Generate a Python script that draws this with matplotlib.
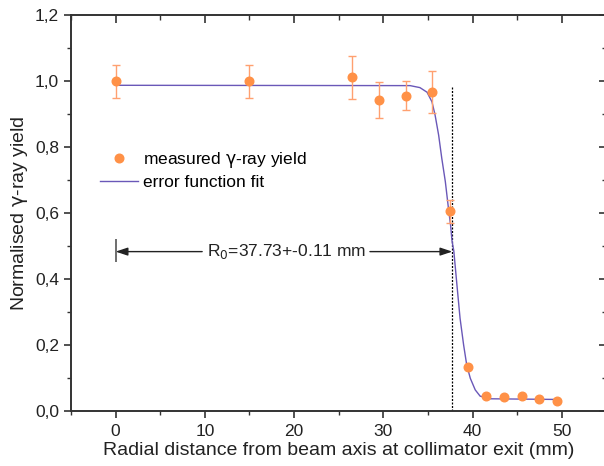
import matplotlib
matplotlib.use("Agg")
import matplotlib.pyplot as plt
from matplotlib.ticker import MultipleLocator, FixedLocator, FixedFormatter

plt.rcParams['font.family'] = ['Liberation Sans', 'DejaVu Sans']
plt.rcParams['mathtext.fontset'] = 'custom'
plt.rcParams['mathtext.rm'] = 'DejaVu Sans'
plt.rcParams['mathtext.it'] = 'DejaVu Sans:italic'

# measured data
x_meas = [0, 15, 26.5, 29.5, 32.5, 35.5, 37.5, 39.5, 41.5, 43.5, 45.5, 47.5, 49.5]
y_meas = [1.0, 1.0, 1.011, 0.942, 0.956, 0.966, 0.605, 0.134, 0.044, 0.041, 0.045, 0.037, 0.031]
y_err = [0.05, 0.05, 0.066, 0.055, 0.044, 0.063, 0.034, 0.0, 0.0, 0.0, 0.0, 0.0, 0.0]

# fit curve
x_fit = [0, 33.0, 34.1, 34.9, 35.45, 35.8, 36.2, 36.55, 36.95, 37.3, 37.55, 37.7,
         37.9, 38.25, 38.6, 39.0, 39.35, 39.75, 40.3, 40.85, 42.0, 49.5]
y_fit = [0.987, 0.986, 0.980, 0.966, 0.937, 0.897, 0.836, 0.766, 0.695, 0.614, 0.560, 0.515,
         0.485, 0.382, 0.281, 0.200, 0.139, 0.099, 0.064, 0.045, 0.037, 0.035]

R0 = 37.73
ann_text = "R$_0$=37.73+-0.11 mm"

yticks = [0.0, 0.2, 0.4, 0.6, 0.8, 1.0, 1.2]
ytick_labels = ["0,0", "0,2", "0,4", "0,6", "0,8", "1,0", "1,2"]
xticks = [0, 10, 20, 30, 40, 50]
xtick_labels = ["0", "10", "20", "30", "40", "50"]

orange = '#FF9147'
orange_err = '#FFA070'
purple = '#6A58B8'
dark = '#333333'

GAMMA = r'$\mathrm{\gamma}$'

fig = plt.figure(figsize=(6.04, 4.66), dpi=100)
ax = fig.add_axes([71/604, 55/466, (606.4-71)/604, 396/466])

ax.plot(x_fit, y_fit, color=purple, lw=1.0, label='error function fit', zorder=2)
ax.errorbar(x_meas, y_meas, yerr=y_err, fmt='none', ecolor=orange_err, elinewidth=1.0,
            capsize=3.2, capthick=1.0, zorder=3)
ax.plot(x_meas, y_meas, 'o', color=orange, ms=6.2, mec=orange,
        label='measured ' + GAMMA + '-ray yield', zorder=4)

ax.vlines(R0, 0, 0.985, colors='black', linestyles=(0, (1.6, 1.2)), lw=0.9, zorder=1)

# annotation arrows
yarr = 0.483
ax.annotate('', xy=(0, yarr), xytext=(9.7, yarr),
            arrowprops=dict(arrowstyle='-|>,head_length=0.6,head_width=0.2', color='#222222', lw=1.0,
                            mutation_scale=12, shrinkA=0, shrinkB=0))
ax.annotate('', xy=(R0, yarr), xytext=(28.5, yarr),
            arrowprops=dict(arrowstyle='-|>,head_length=0.6,head_width=0.2', color='#222222', lw=1.0,
                            mutation_scale=12, shrinkA=0, shrinkB=0))
ax.vlines(0, 0.452, 0.521, colors='#555555', lw=1.2)
ax.text(19.1, yarr, ann_text, ha='center', va='center', fontsize=12.5, color='#222222')

ax.set_xlim(-5, 55)
ax.set_ylim(0, 1.2)
ax.xaxis.set_major_locator(FixedLocator(xticks))
ax.xaxis.set_major_formatter(FixedFormatter(xtick_labels))
ax.xaxis.set_minor_locator(MultipleLocator(5))
ax.yaxis.set_major_locator(FixedLocator(yticks))
ax.yaxis.set_major_formatter(FixedFormatter(ytick_labels))
ax.yaxis.set_minor_locator(MultipleLocator(0.1))

for s in ax.spines.values():
    s.set_linewidth(1.4)
    s.set_color(dark)

ax.tick_params(axis='both', which='major', direction='out', length=5, width=1.2, color=dark,
               labelsize=12.5, labelcolor='#222222')
ax.tick_params(axis='x', which='major', pad=4.5)
ax.tick_params(axis='y', which='major', pad=3.5)
ax.tick_params(axis='both', which='minor', direction='out', length=3, width=1.0, color=dark)

# top / right mirrored inward ticks
axt = ax.secondary_xaxis('top')
axt.xaxis.set_major_locator(FixedLocator(xticks))
axt.xaxis.set_minor_locator(MultipleLocator(5))
axt.tick_params(which='major', direction='in', length=6, width=1.2, color=dark, labeltop=False)
axt.tick_params(which='minor', direction='in', length=3.5, width=1.0, color=dark)
axt.spines['top'].set_visible(False)
axr = ax.secondary_yaxis('right')
axr.yaxis.set_major_locator(FixedLocator(yticks))
axr.yaxis.set_minor_locator(MultipleLocator(0.1))
axr.tick_params(which='major', direction='in', length=5, width=1.2, color=dark, labelright=False)
axr.tick_params(which='minor', direction='in', length=3, width=1.0, color=dark)
axr.spines['right'].set_visible(False)

ax.set_xlabel('Radial distance from beam axis at collimator exit (mm)', fontsize=14, color='#222222', labelpad=2)
ax.set_ylabel('Normalised ' + GAMMA + '-ray yield', fontsize=14, color='#222222', labelpad=4)

h, l = ax.get_legend_handles_labels()
ax.legend(h[::-1], l[::-1], loc='upper left', bbox_to_anchor=((100-71)/535.4, (411-150)/396),
          frameon=False, fontsize=12.5, handlelength=2.2, handletextpad=0.3, labelspacing=0.3,
          borderaxespad=0, borderpad=0, numpoints=1)

fig.savefig('out.png', dpi=100)
